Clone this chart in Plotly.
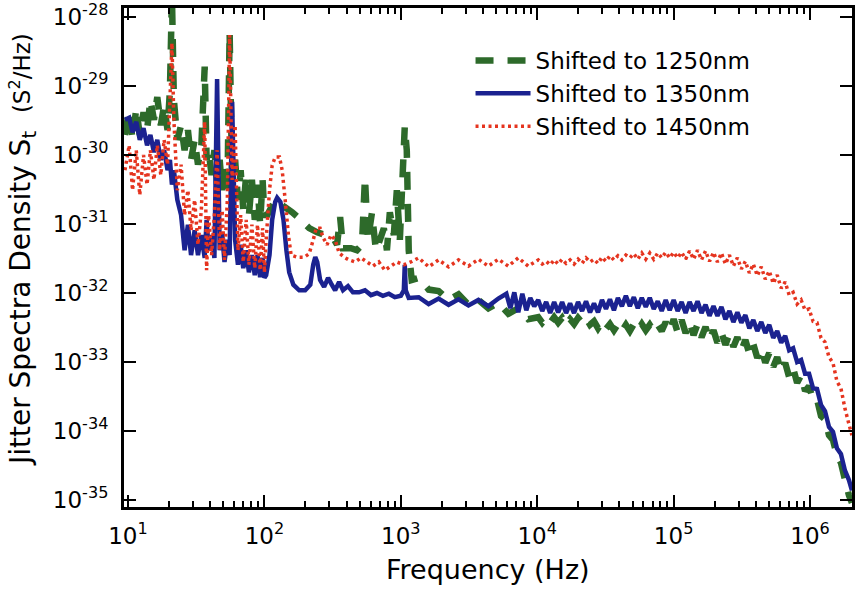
import numpy as np
import plotly.graph_objects as go

# ---------------- data ----------------
# Shared FFT grid for the noisy 10-100 Hz segment (Hz)
freq_low = [9.5, 10.2, 10.8, 11.5, 12.2, 13.0, 13.8, 14.6, 15.5, 16.4, 17.4, 18.4,
            19.5, 20.3, 21.0, 21.7, 23.0, 24.5, 26.0, 27.5, 29.0, 30.8, 32.6, 34.5,
            36.5, 37.7, 39.0, 41.0, 43.0, 45.0, 47.0, 49.0, 51.0, 53.5, 55.6, 58.0,
            61.0, 64.0, 67.0, 70.0, 73.5, 77.0, 81.0, 85.0, 89.0, 93.0, 97.0, 100.0]

# Shared FFT grid for the 10 kHz - 2 MHz segment (Hz)
freq_high = [10170, 10880, 11630, 12440, 13310, 14240, 15220, 16280, 17410, 18620,
             19920, 21310, 22790, 24380, 26080, 27900, 29830, 31910, 34120, 36500,
             39030, 41750, 44650, 47760, 51070, 54620, 58420, 62490, 66830, 71480,
             76450, 81770, 87460, 93550, 100000, 106960, 114400, 122400, 130900, 140000,
             149700, 160100, 171300, 183200, 195900, 209500, 224100, 239700, 256400, 274200,
             293300, 313700, 335500, 358900, 383800, 410500, 439100, 469700, 502300, 537300,
             574400, 614400, 657200, 702900, 751700, 804000, 860000, 919900, 983300, 1.052e6,
             1.125e6, 1.203e6, 1.287e6, 1.377e6, 1.472e6, 1.574e6, 1.684e6, 1.801e6, 1.928e6,
             2.027e6]

# ---- Shifted to 1250nm : log10 of S_t (S^2/Hz)
log_psd_1250_low = [-29.71, -29.35, -29.78, -29.32, -29.71, -29.38, -29.64, -29.20, -29.49, -29.16,
                    -29.57, -29.28, -29.64, -29.06, -27.70, -29.20, -29.78, -29.57, -29.93, -29.64,
                    -30.07, -29.78, -30.14, -29.86, -28.72, -30.07, -29.93, -30.29, -29.93, -30.43,
                    -30.07, -30.51, -30.14, -30.58, -28.22, -30.36, -30.07, -30.65, -30.22, -30.80,
                    -30.29, -30.87, -30.36, -30.94, -30.43, -30.99, -30.36, -30.87]
freq_1250_mid = [105, 120, 140, 160, 183, 213, 244, 279, 319, 341, 359, 377, 431, 477, 519, 546,
                 574, 614, 657, 703, 751, 791, 831, 889, 935, 984, 1035, 1069, 1106, 1143, 1202,
                 1352, 1600, 1892, 2239, 2649, 3133, 3707, 4385, 5188, 6138, 7264, 8590]
log_psd_1250_mid = [-30.87, -30.65, -30.75, -30.83, -30.93, -31.06, -31.12, -31.16, -31.20, -31.30,
                    -30.90, -31.35, -31.35, -31.38, -31.30, -30.33, -31.23, -30.84, -31.38, -31.23,
                    -31.06, -31.38, -30.83, -31.16, -30.51, -31.23, -30.22, -29.59, -29.93, -31.38,
                    -31.81, -31.78, -31.95, -31.97, -32.10, -32.02, -32.17, -32.10, -32.22, -32.14,
                    -32.30, -32.22, -32.38]
log_psd_1250_high = [-32.35, -32.43, -32.36, -32.43, -32.35, -32.43, -32.36, -32.46, -32.38, -32.45,
                     -32.36, -32.43, -32.36, -32.46, -32.41, -32.51, -32.42, -32.52, -32.45, -32.54,
                     -32.45, -32.55, -32.46, -32.55, -32.45, -32.54, -32.45, -32.54, -32.46, -32.55,
                     -32.46, -32.55, -32.42, -32.55, -32.38, -32.57, -32.39, -32.58, -32.42, -32.61,
                     -32.45, -32.64, -32.49, -32.68, -32.54, -32.72, -32.57, -32.75, -32.59, -32.78,
                     -32.64, -32.83, -32.68, -32.88, -32.74, -32.94, -32.80, -33.01, -32.87, -33.07,
                     -32.93, -33.14, -33.01, -33.22, -33.09, -33.30, -33.19, -33.42, -33.35, -33.55,
                     -33.54, -33.78, -33.83, -34.06, -34.13, -34.35, -34.46, -34.70, -34.93, -35.04]

# ---- Shifted to 1350nm
log_psd_1350_low = [-29.49, -29.46, -29.67, -29.52, -29.78, -29.61, -29.86, -29.71, -29.96, -29.78,
                    -30.07, -29.93, -30.22, -30.07, -30.43, -30.22, -30.65, -30.87, -31.38, -31.01,
                    -31.45, -31.09, -31.45, -31.16, -31.49, -30.94, -31.38, -31.16, -31.49, -28.90,
                    -31.38, -31.13, -31.55, -31.23, -31.45, -29.23, -31.23, -31.59, -31.30, -31.64,
                    -31.38, -31.70, -31.45, -31.74, -31.45, -31.77, -31.49, -31.78]
freq_1350_mid = [103, 109, 114, 120, 124, 131, 138, 145, 152, 163, 180, 199, 217, 228, 236, 244,
                 256, 274, 293, 308, 330, 353, 377, 410, 446, 494, 546, 604, 668, 739, 817, 904,
                 1000, 1052, 1069, 1087, 1143, 1352, 1600, 1892, 2239, 2649, 3133, 3707, 4385,
                 5188, 5938, 6353, 6792, 7264, 7776, 8318, 8893, 9506]
log_psd_1350_mid = [-31.74, -31.45, -30.94, -30.68, -30.62, -30.68, -30.94, -31.38, -31.70, -31.88,
                    -31.96, -31.96, -31.88, -31.59, -31.48, -31.55, -31.81, -31.91, -31.78, -31.86,
                    -31.96, -31.84, -31.96, -31.90, -31.99, -31.99, -31.96, -32.03, -32.00, -32.04,
                    -32.01, -32.06, -32.04, -31.96, -31.59, -31.96, -32.07, -32.06, -32.16, -32.08,
                    -32.17, -32.09, -32.18, -32.10, -32.19, -32.08, -32.01, -32.22, -31.99, -32.28,
                    -32.01, -32.25, -32.07, -32.19]
log_psd_1350_high = [-32.10, -32.26, -32.13, -32.29, -32.13, -32.28, -32.13, -32.29, -32.15, -32.29,
                     -32.13, -32.26, -32.12, -32.28, -32.15, -32.28, -32.10, -32.23, -32.09, -32.25,
                     -32.07, -32.19, -32.04, -32.19, -32.06, -32.22, -32.07, -32.20, -32.07, -32.23,
                     -32.12, -32.26, -32.10, -32.25, -32.10, -32.26, -32.13, -32.29, -32.13, -32.26,
                     -32.12, -32.29, -32.17, -32.33, -32.19, -32.33, -32.20, -32.38, -32.26, -32.42,
                     -32.28, -32.43, -32.32, -32.51, -32.39, -32.55, -32.42, -32.58, -32.46, -32.65,
                     -32.55, -32.72, -32.62, -32.83, -32.80, -33.00, -32.97, -33.17, -33.17, -33.38,
                     -33.39, -33.62, -33.71, -33.94, -34.01, -34.25, -34.33, -34.57, -34.71, -34.86]

# ---- Shifted to 1450nm
log_psd_1450_low = [-30.22, -29.86, -30.51, -29.93, -30.58, -30.00, -30.43, -29.93, -30.36, -29.86,
                    -30.29, -29.78, -30.14, -29.20, -28.38, -29.49, -30.51, -30.14, -30.87, -30.51,
                    -31.09, -30.65, -31.30, -30.80, -29.52, -31.67, -30.87, -31.45, -30.87, -29.93,
                    -31.38, -30.80, -31.52, -30.65, -28.26, -30.36, -29.57, -31.38, -30.87, -31.55,
                    -30.94, -31.59, -31.01, -31.64, -31.01, -31.67, -31.06, -31.70]
freq_1450_mid = [103, 109, 114, 120, 129, 135, 142, 150, 157, 174, 196, 213, 228, 240, 256, 270,
                 288, 308, 330, 353, 384, 417, 462, 510, 565, 625, 691, 764, 845, 935, 1052, 1183,
                 1352, 1600, 1892, 2239, 2649, 3133, 3707, 4385, 5188, 6138, 7264, 8590]
log_psd_1450_mid = [-31.23, -30.51, -30.15, -30.03, -30.03, -30.22, -30.65, -31.16, -31.45, -31.48,
                    -31.48, -31.43, -31.23, -31.06, -31.06, -31.20, -31.30, -31.16, -31.23, -31.42,
                    -31.48, -31.52, -31.55, -31.49, -31.55, -31.61, -31.55, -31.67, -31.61, -31.55,
                    -31.59, -31.55, -31.49, -31.62, -31.52, -31.62, -31.52, -31.61, -31.51, -31.61,
                    -31.51, -31.61, -31.49, -31.61]
log_psd_1450_high = [-31.52, -31.58, -31.54, -31.59, -31.52, -31.58, -31.51, -31.57, -31.52, -31.58,
                     -31.51, -31.57, -31.49, -31.55, -31.51, -31.57, -31.48, -31.54, -31.46, -31.52,
                     -31.46, -31.52, -31.45, -31.49, -31.43, -31.51, -31.42, -31.51, -31.42, -31.51,
                     -31.42, -31.49, -31.41, -31.49, -31.41, -31.49, -31.41, -31.51, -31.39, -31.51,
                     -31.38, -31.52, -31.39, -31.54, -31.41, -31.55, -31.42, -31.58, -31.45, -31.61,
                     -31.49, -31.65, -31.54, -31.71, -31.58, -31.75, -31.62, -31.80, -31.68, -31.86,
                     -31.74, -31.93, -31.84, -32.03, -31.99, -32.16, -32.10, -32.25, -32.23, -32.41,
                     -32.43, -32.65, -32.71, -32.93, -33.01, -33.28, -33.38, -33.67, -33.90, -34.06]

series_names = ["Shifted to 1250nm", "Shifted to 1350nm", "Shifted to 1450nm"]
x_tick_values = [1e1, 1e2, 1e3, 1e4, 1e5, 1e6]
x_tick_labels = ["10<sup>1</sup>", "10<sup>2</sup>", "10<sup>3</sup>",
                 "10<sup>4</sup>", "10<sup>5</sup>", "10<sup>6</sup>"]
y_tick_values = [1e-35, 1e-34, 1e-33, 1e-32, 1e-31, 1e-30, 1e-29, 1e-28]
y_tick_labels = ["10<sup>-35</sup>", "10<sup>-34</sup>", "10<sup>-33</sup>", "10<sup>-32</sup>",
                 "10<sup>-31</sup>", "10<sup>-30</sup>", "10<sup>-29</sup>", "10<sup>-28</sup>"]

for lo, mf, mv, hv in [(log_psd_1250_low, freq_1250_mid, log_psd_1250_mid, log_psd_1250_high),
                       (log_psd_1350_low, freq_1350_mid, log_psd_1350_mid, log_psd_1350_high),
                       (log_psd_1450_low, freq_1450_mid, log_psd_1450_mid, log_psd_1450_high)]:
    assert len(lo) == len(freq_low) and len(mf) == len(mv) and len(hv) == len(freq_high)

# ---------------- figure ----------------
FONT = "DejaVu Sans"
GREEN = "#2d6a2a"
BLUE = "#1b2290"
RED = "#e5341f"


def series(low, fmid, mid, high):
    x = freq_low + fmid + freq_high
    y = 10 ** np.array(low + mid + high)
    return x, y


fig = go.Figure()
x, y = series(log_psd_1250_low, freq_1250_mid, log_psd_1250_mid, log_psd_1250_high)
fig.add_trace(go.Scatter(x=x, y=y, mode="lines", name=series_names[0],
                         line=dict(color=GREEN, width=6.5, dash="18px,14px", simplify=False)))
x, y = series(log_psd_1350_low, freq_1350_mid, log_psd_1350_mid, log_psd_1350_high)
fig.add_trace(go.Scatter(x=x, y=y, mode="lines", name=series_names[1],
                         line=dict(color=BLUE, width=4.5, simplify=False)))
x, y = series(log_psd_1450_low, freq_1450_mid, log_psd_1450_mid, log_psd_1450_high)
fig.add_trace(go.Scatter(x=x, y=y, mode="lines", name=series_names[2],
                         line=dict(color=RED, width=3.5, dash="3px,3.5px", simplify=False)))

fig.update_layout(
    width=855, height=592,
    margin=dict(l=124, r=0, t=8, b=85),
    paper_bgcolor="white", plot_bgcolor="white",
    font=dict(family=FONT, color="black", size=23),
    showlegend=True,
    legend=dict(x=0.476, y=0.938, xanchor="left", yanchor="top",
                bgcolor="rgba(0,0,0,0)", font=dict(size=23, family=FONT),
                itemwidth=55, tracegroupgap=0),
    annotations=[
        dict(text="Frequency (Hz)", xref="paper", yref="paper", x=0.5, y=-0.126,
             xanchor="center", yanchor="middle", showarrow=False,
             font=dict(size=27, family=FONT)),
        dict(text="Jitter Spectra Density S<sub>t</sub>  "
                  "<span style='font-size:23px'>(S<sup>2</sup>/Hz)</span>",
             xref="paper", yref="paper", x=-0.14, y=0.515,
             xanchor="center", yanchor="middle", textangle=-90, showarrow=False,
             font=dict(size=28, family=FONT)),
    ],
)
fig.update_xaxes(
    type="log", range=[np.log10(9.35), np.log10(2.03e6)],
    tickmode="array", tickvals=x_tick_values, ticktext=x_tick_labels,
    ticks="inside", ticklen=12, tickwidth=2, tickcolor="black",
    showline=True, linewidth=3, linecolor="black", mirror="ticks",
    showgrid=False, zeroline=False, ticklabelstandoff=6,
    tickfont=dict(size=23, family=FONT),
    minor=dict(ticks="inside", ticklen=6, tickwidth=1.5, tickcolor="black",
               tickmode="array",
               tickvals=[m * 10 ** e for e in range(1, 7) for m in range(2, 10)],
               showgrid=False),
)
fig.update_yaxes(
    type="log", range=[-35.10, -27.87],
    tickmode="array", tickvals=y_tick_values, ticktext=y_tick_labels,
    ticks="inside", ticklen=12, tickwidth=2, tickcolor="black",
    showline=True, linewidth=3, linecolor="black", mirror="ticks",
    showgrid=False, zeroline=False, ticklabelstandoff=8,
    tickfont=dict(size=23, family=FONT),
)

fig.write_html("out.html", config={"displayModeBar": False},
               post_script="document.body.style.margin='0';"
                           "document.body.style.overflow='hidden';")
